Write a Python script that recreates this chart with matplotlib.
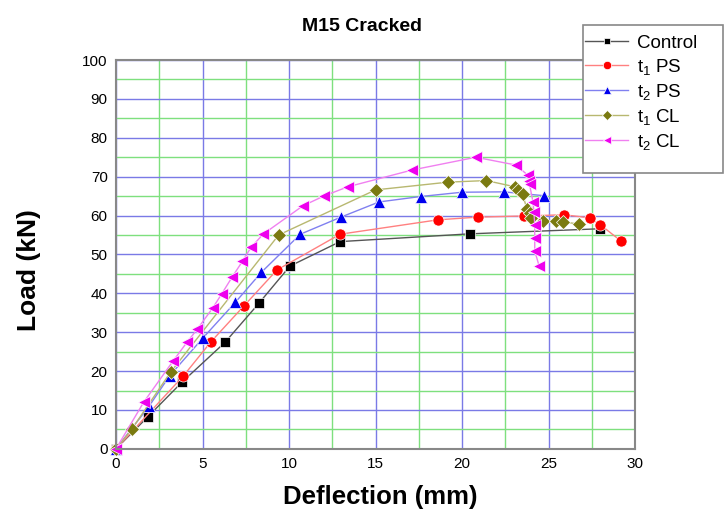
import numpy as np
import matplotlib.pyplot as plt
from matplotlib.ticker import MultipleLocator
from matplotlib.patches import Rectangle

plt.rcParams['font.family'] = ['Liberation Sans', 'DejaVu Sans']

# Load-deflection readings (mm, kN)
ctrl_x = [0, 1.85, 3.8, 6.3, 8.25, 10.05, 12.95, 20.45, 27.95]
ctrl_y = [0, 8.3, 17.1, 27.4, 37.4, 47.0, 53.3, 55.3, 56.6]

t1ps_x = [0, 3.9, 5.5, 7.4, 9.3, 12.95, 18.6, 20.9, 23.6, 25.9, 27.4, 28.0, 29.2]
t1ps_y = [0, 18.8, 27.6, 36.8, 46.0, 55.2, 58.9, 59.6, 59.9, 60.2, 59.4, 57.6, 53.4]

t2ps_x = [0, 1.9, 3.1, 5.0, 6.9, 8.4, 10.65, 13.0, 15.2, 17.6, 20.0, 22.4, 24.75]
t2ps_y = [0, 10.9, 18.8, 28.4, 37.7, 45.4, 55.2, 59.6, 63.5, 64.9, 66.0, 66.1, 65.1]

t1cl_x = [0, 0.9, 3.15, 9.4, 15.0, 19.2, 21.4, 23.05, 23.25, 23.5, 23.75, 23.9,
          24.0, 24.7, 25.4, 25.85, 26.75]
t1cl_y = [0, 5.0, 19.7, 55.0, 66.6, 68.6, 69.0, 67.4, 66.6, 65.5, 61.6, 60.6,
          59.5, 58.7, 58.7, 58.4, 57.8]

t2cl_x = [0, 1.6, 3.3, 4.1, 4.7, 5.6, 6.1, 6.7, 7.3, 7.8, 8.5, 10.8, 12.0, 13.4,
          17.1, 20.8, 23.1, 23.8, 23.85, 23.9, 24.1, 24.15, 24.2, 24.2, 24.2, 24.45]
t2cl_y = [0, 12.0, 22.6, 27.4, 30.8, 36.3, 39.8, 44.1, 48.2, 51.8, 55.2, 62.5, 65.0,
          67.4, 71.7, 75.0, 73.0, 70.4, 69.0, 68.0, 63.5, 61.0, 57.6, 54.2, 50.9, 47.1]

fig = plt.figure(figsize=(7.25, 5.13), dpi=100)
ax = fig.add_axes([0.16, 0.125, 0.716, 0.758])

ax.xaxis.set_major_locator(MultipleLocator(5))
ax.xaxis.set_minor_locator(MultipleLocator(2.5))
ax.yaxis.set_major_locator(MultipleLocator(10))
ax.yaxis.set_minor_locator(MultipleLocator(5))
ax.grid(which='minor', color='#7ee07e', lw=1.0)
ax.grid(which='major', color='#7a7ae6', lw=1.0)
ax.set_axisbelow(True)
ax.tick_params(which='both', length=0, labelsize=11, pad=6)

series = [
    (ctrl_x, ctrl_y, 'Control', 's', 'black', '#555555', 6.5),
    (t1ps_x, t1ps_y, r'$\mathregular{t_1}$ PS', 'o', '#ff0000', '#ff8080', 8),
    (t2ps_x, t2ps_y, r'$\mathregular{t_2}$ PS', '^', '#0000ee', '#8080f0', 8),
    (t1cl_x, t1cl_y, r'$\mathregular{t_1}$ CL', 'D', '#7a7a10', '#b8b870', 7),
    (t2cl_x, t2cl_y, r'$\mathregular{t_2}$ CL', '<', '#ee00ee', '#f080f0', 8.5),
]
for x, y, lab, m, c, lc, ms in series:
    ax.plot(x, y, color=lc, lw=1.0, marker=m, ms=ms, mfc=c, mec='white',
            mew=0.5, label=lab, clip_on=False)

ax.set_xlim(0, 30)
ax.set_ylim(0, 100)
for s in ax.spines.values():
    s.set_color('#888888')
    s.set_linewidth(1.5)

fig.text(0.5, 0.949, 'M15 Cracked', fontsize=14, fontweight='bold',
         ha='center', va='center')
fig.text(0.524, 0.031, 'Deflection (mm)', fontsize=18.5, fontweight='bold',
         ha='center', va='center')
fig.text(0.04, 0.474, 'Load (kN)', fontsize=19, fontweight='bold',
         ha='center', va='center', rotation=90)

# legend box sticks out of the axes, drawn separately
fig.add_artist(Rectangle((0.804, 1 - 173 / 513), 140 / 725, 148 / 513,
                         transform=fig.transFigure, facecolor='white',
                         edgecolor='#888888', lw=1.2, zorder=4))
leg = fig.legend(loc='upper left', bbox_to_anchor=(0.807, 0.932), fontsize=13.5,
                 frameon=False, markerscale=0.75, handlelength=2.3,
                 handletextpad=0.45, labelspacing=0.26, borderpad=0,
                 borderaxespad=0)
leg.set_zorder(5)

fig.savefig('out.png', dpi=100)
